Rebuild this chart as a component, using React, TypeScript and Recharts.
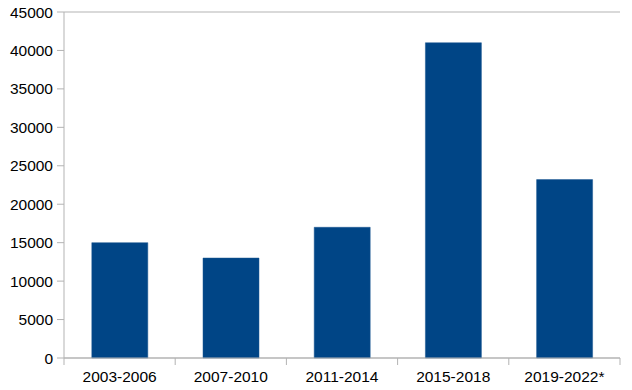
import React from "react";
import { BarChart, Bar, XAxis, YAxis, CartesianGrid } from "recharts";

const periods = ["2003-2006", "2007-2010", "2011-2014", "2015-2018", "2019-2022*"];
const counts = [15000, 13000, 17000, 41000, 23200];
const yTicks = [0, 5000, 10000, 15000, 20000, 25000, 30000, 35000, 40000, 45000];

const data = periods.map((period, i) => ({ period, count: counts[i] }));

const W = 632;
const H = 390;
const margin = { top: 12, right: 12, left: 0, bottom: 0 };
const yAxisWidth = 64;
const band = (W - margin.right - margin.left - yAxisWidth) / periods.length;
const font = "'Liberation Sans', Arial, sans-serif";

function PeriodTick(props: any) {
    const { x, y, payload, index } = props;
    const top = y - 13;
    return <g>
        <line x1={x - band / 2} x2={x - band / 2} y1={top} y2={top + 7} stroke="#b3b3b3" />
        {index === periods.length - 1 &&
            <line x1={x + band / 2} x2={x + band / 2} y1={top} y2={top + 7} stroke="#b3b3b3" />}
        <text x={x} y={y} dy="0.71em" textAnchor="middle" fill="#000" fontSize={15.5} fontFamily={font}>
            {payload.value}
        </text>
    </g>
}

export default function App() {
    return <div style={{ position: "absolute", left: 0, top: 0, background: "#fff" }}>
        <BarChart width={W} height={H} data={data} margin={margin} barCategoryGap="25%">
            <CartesianGrid vertical={false} stroke="#b3b3b3" />
            <XAxis dataKey="period" height={32} interval={0} tickSize={7} tickMargin={6}
                tickLine={false} stroke="#b3b3b3" tick={<PeriodTick />} />
            <YAxis yAxisId="left" domain={[0, 45000]} ticks={yTicks} width={yAxisWidth}
                tickSize={7} tickMargin={4} stroke="#b3b3b3"
                tick={{ fill: "#000", fontSize: 15.5, fontFamily: font }} />
            <YAxis yAxisId="right" orientation="right" width={0} tick={false} tickLine={false}
                domain={[0, 45000]} stroke="#b3b3b3" />
            <Bar yAxisId="left" dataKey="count" fill="#004586" stroke="#1a5690" strokeWidth={0.5}
                isAnimationActive={false} />
        </BarChart>
    </div>
}
